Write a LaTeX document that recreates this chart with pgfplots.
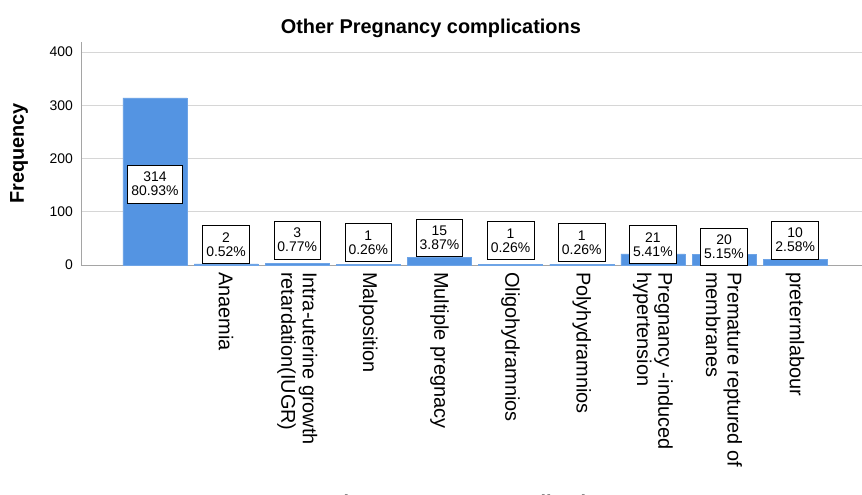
\documentclass[border=0pt]{standalone}
\usepackage{pgfplots}
\pgfplotsset{compat=1.18}
\usepackage{fontspec}
\setmainfont{Liberation Sans}
\definecolor{spssblue}{RGB}{84,148,226}
\definecolor{gridgray}{RGB}{214,214,214}
\definecolor{axgray}{RGB}{165,165,165}

\begin{document}
\begin{tikzpicture}
\begin{axis}[
    scale only axis,
    width=781bp, height=223bp,
    xmin=-1.04, xmax=9.94,
    ymin=0, ymax=419,
    axis x line=bottom, axis y line=left,
    axis line style={-, axgray},
    ytick={0,100,200,300,400},
    ymajorgrids, grid style={gridgray, line width=0.8pt},
    major tick length=0pt,
    /pgf/number format/assume math mode=true,
    yticklabel style={font=\fontsize{14}{16}\selectfont, inner xsep=0pt, xshift=-8bp},
    xtick={1,...,9},
    xticklabels={Anaemia,
      {Intra-uterine growth\\retardation(IUGR)},
      Malposition, Multiple pregnacy, Oligohydramnios, Polyhydramnios,
      {Pregnancy -induced\\hypertension},
      {Premature reptured of\\membranes},
      pretermlabour},
    xticklabel style={rotate=-90, anchor=west, align=left,
      font=\fontsize{20}{21.5}\selectfont, inner xsep=7bp, inner ysep=0pt},
    ylabel={Frequency},
    ylabel style={at={(axis description cs:-0.0794,0.5)}, anchor=center,
      font=\bfseries\fontsize{20}{22}\selectfont},
    xlabel={Other Pregnancy complications},
    xlabel style={at={(axis description cs:0.5,-1.03)}, anchor=north, inner sep=0pt,
      font=\bfseries\fontsize{20}{22}\selectfont},
    title={Other Pregnancy complications},
    title style={at={(axis description cs:0.448,1.013)}, anchor=base, inner sep=0pt,
      font=\bfseries\fontsize{20}{22}\selectfont},
  ]
  % frequencies
  \addplot[ybar, bar width=0.9, bar shift=0pt, fill=spssblue, draw=spssblue!85!white] coordinates {
    (0,314) (1,2) (2,3) (3,1) (4,15) (5,1) (6,1) (7,21) (8,20) (9,10)};
  % value labels
  \addplot[only marks, mark=none, point meta=explicit symbolic,
    nodes near coords,
    nodes near coords style={anchor=center, draw=black, fill=white, align=center,
      font=\fontsize{14}{14}\selectfont, inner xsep=3.5bp, inner ysep=7bp, line width=0.8pt}]
    coordinates {
    (0,152) [314\\80.93\%]
    (1,38) [2\\0.52\%]
    (2,47) [3\\0.77\%]
    (3,42) [1\\0.26\%]
    (4,51) [15\\3.87\%]
    (5,46) [1\\0.26\%]
    (6,42) [1\\0.26\%]
    (7,38) [21\\5.41\%]
    (8,34) [20\\5.15\%]
    (9,47) [10\\2.58\%]
  };
\end{axis}
\pgfresetboundingbox
\useasboundingbox (-81bp,-230bp) rectangle (781bp,265bp);
\end{tikzpicture}
\end{document}
